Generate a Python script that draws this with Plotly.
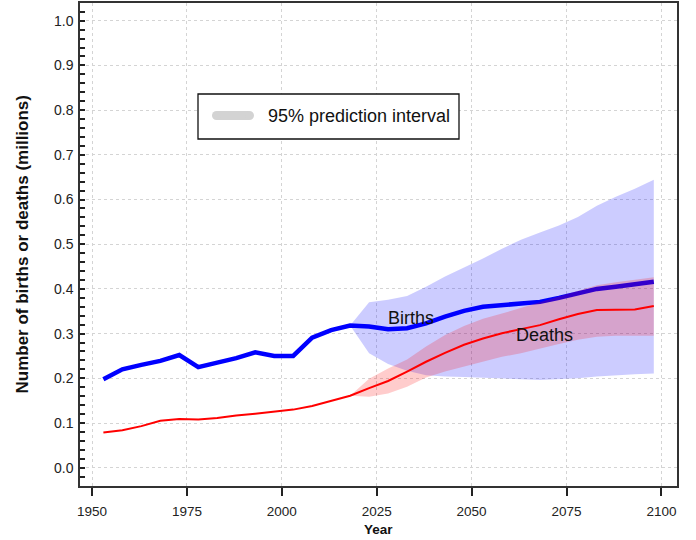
import plotly.graph_objects as go

# ---------------- data ----------------
years = [1953 + 5 * i for i in range(30)]
births = [0.198, 0.220, 0.230, 0.239, 0.252, 0.225, 0.235, 0.245, 0.258, 0.250,
          0.250, 0.291, 0.308, 0.318, 0.316, 0.310, 0.312, 0.323, 0.338, 0.351,
          0.360, 0.364, 0.366, 0.371, 0.380, 0.390, 0.400, 0.405, 0.410, 0.416]
deaths = [0.079, 0.084, 0.093, 0.105, 0.109, 0.108, 0.111, 0.117, 0.121, 0.126,
          0.130, 0.138, 0.149, 0.161, 0.178, 0.194, 0.215, 0.237, 0.257, 0.275,
          0.289, 0.301, 0.310, 0.319, 0.332, 0.344, 0.353, 0.353, 0.354, 0.362]

pi_years = [2018 + 5 * i for i in range(17)]
births_hi = [0.318, 0.370, 0.376, 0.384, 0.405, 0.428, 0.448, 0.468, 0.490, 0.510,
             0.526, 0.542, 0.561, 0.586, 0.606, 0.624, 0.644]
births_lo = [0.318, 0.256, 0.232, 0.217, 0.207, 0.204, 0.203, 0.202, 0.200, 0.198,
             0.196, 0.198, 0.200, 0.204, 0.207, 0.209, 0.211]
deaths_hi = [0.161, 0.199, 0.222, 0.242, 0.271, 0.297, 0.317, 0.333, 0.345, 0.357,
             0.370, 0.383, 0.396, 0.408, 0.415, 0.420, 0.426]
deaths_lo = [0.161, 0.159, 0.166, 0.181, 0.202, 0.215, 0.226, 0.237, 0.248, 0.256,
             0.266, 0.277, 0.286, 0.293, 0.295, 0.295, 0.295]

x_ticks = [1950, 1975, 2000, 2025, 2050, 2075, 2100]
y_ticks = [0.0, 0.1, 0.2, 0.3, 0.4, 0.5, 0.6, 0.7, 0.8, 0.9, 1.0]
y_tick_labels = ["0.0", "0.1", "0.2", "0.3", "0.4", "0.5", "0.6", "0.7", "0.8", "0.9", "1.0"]

# ---------------- layout constants ----------------
W, H = 696, 540
ML, MR, MT, MB = 80, 19, 3, 54
PW, PH = W - ML - MR, H - MT - MB
FONT = "Liberation Sans, Arial, Helvetica, sans-serif"


def px(x):
    return (x - ML) / PW


def py(y):
    return (H - MB - y) / PH


fig = go.Figure()

fig.add_trace(go.Scatter(
    x=pi_years + pi_years[::-1], y=births_hi + births_lo[::-1],
    fill="toself", fillcolor="rgba(0,0,255,0.2)", line=dict(width=0),
    mode="lines", hoverinfo="skip", showlegend=False))
fig.add_trace(go.Scatter(
    x=years, y=births, mode="lines", line=dict(color="#0000ff", width=4.5),
    showlegend=False, name="Births"))
fig.add_trace(go.Scatter(
    x=pi_years + pi_years[::-1], y=deaths_hi + deaths_lo[::-1],
    fill="toself", fillcolor="rgba(255,0,0,0.2)", line=dict(width=0),
    mode="lines", hoverinfo="skip", showlegend=False))
fig.add_trace(go.Scatter(
    x=years, y=deaths, mode="lines", line=dict(color="#ff0000", width=2),
    showlegend=False, name="Deaths"))

# series labels
fig.add_annotation(x=2034.0, y=0.335, text="Births", showarrow=False,
                   font=dict(family=FONT, size=18, color="#111"))
fig.add_annotation(x=2069.1, y=0.296, text="Deaths", showarrow=False,
                   font=dict(family=FONT, size=18, color="#111"))

# custom legend box
fig.add_shape(type="rect", xref="paper", yref="paper",
              x0=px(198), x1=px(459), y0=py(139), y1=py(94),
              line=dict(color="#111", width=1.3), fillcolor="white", layer="above")
fig.add_shape(type="line", xref="paper", yref="paper",
              x0=px(216.5), x1=px(249.5), y0=py(115.5), y1=py(115.5),
              line=dict(color="#d3d3d3", width=9), layer="above")
for cx in (216.5, 249.5):
    fig.add_shape(type="circle", xref="paper", yref="paper",
                  x0=px(cx - 4.5), x1=px(cx + 4.5), y0=py(120), y1=py(111),
                  line=dict(width=0), fillcolor="#d3d3d3", layer="above")
fig.add_annotation(xref="paper", yref="paper", x=px(266), y=py(115.5),
                   xanchor="left", yanchor="middle", showarrow=False,
                   text="95% prediction interval",
                   font=dict(family=FONT, size=18, color="#111"))

# axis titles
fig.add_annotation(xref="paper", yref="paper", x=0, y=0.5, xshift=-58,
                   textangle=-90, showarrow=False, xanchor="center", yanchor="middle",
                   text="<b>Number of births or deaths (millions)</b>",
                   font=dict(family=FONT, size=17, color="#111"))
fig.add_annotation(xref="paper", yref="paper", x=0.5, y=0, yshift=-43,
                   showarrow=False, xanchor="center", yanchor="middle",
                   text="<b>Year</b>", font=dict(family=FONT, size=13.5, color="#111"))

fig.update_layout(
    width=W, height=H,
    margin=dict(l=ML, r=MR, t=MT, b=MB, autoexpand=False),
    paper_bgcolor="white", plot_bgcolor="white",
    font=dict(family=FONT, color="#222"),
    showlegend=False,
)
fig.update_xaxes(
    range=[1946.84, 2104.11], tickvals=x_ticks,
    ticks="outside", ticklen=8, tickwidth=1.5, tickcolor="#222",
    showline=True, linecolor="#333", linewidth=1.5, mirror=True,
    showgrid=True, gridcolor="#d4d4d4", griddash="dot", gridwidth=1,
    zeroline=False, tickfont=dict(family=FONT, size=13.5, color="#222"),
    ticklabelstandoff=4,
)
fig.update_yaxes(
    range=[-0.0409, 1.0396], tickvals=y_ticks, ticktext=y_tick_labels,
    ticks="inside", ticklen=5, tickwidth=1.5, tickcolor="#222",
    minor=dict(dtick=0.02, tick0=0, ticks="inside", ticklen=5, tickwidth=1.5,
               tickcolor="#222", showgrid=False),
    showline=True, linecolor="#333", linewidth=1.5, mirror=True,
    showgrid=True, gridcolor="#d4d4d4", griddash="dot", gridwidth=1,
    zeroline=False, tickfont=dict(family=FONT, size=14, color="#222"),
    ticklabelstandoff=2,
)

fig.write_html("out.html", config={"displayModeBar": False},
               post_script="document.body.style.margin='0';document.body.style.padding='0';")
